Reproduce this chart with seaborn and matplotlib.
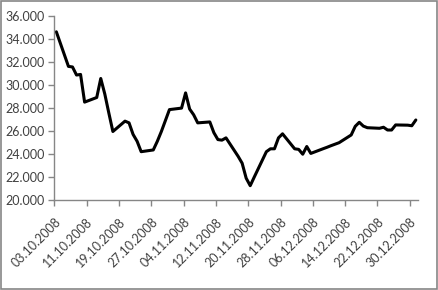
import numpy as np
import pandas as pd
import matplotlib
matplotlib.use("Agg")
import matplotlib.pyplot as plt
import matplotlib.dates as mdates
from matplotlib.patches import Rectangle
from matplotlib.ticker import FuncFormatter
import seaborn as sns

# ---- data ----
dates = [
    "03.10.2008", "06.10.2008", "07.10.2008", "08.10.2008", "09.10.2008", "10.10.2008",
    "13.10.2008", "14.10.2008", "15.10.2008", "16.10.2008", "17.10.2008",
    "20.10.2008", "21.10.2008", "22.10.2008", "23.10.2008", "24.10.2008",
    "27.10.2008", "28.10.2008", "29.10.2008", "30.10.2008", "31.10.2008",
    "03.11.2008", "04.11.2008", "05.11.2008", "06.11.2008", "07.11.2008",
    "10.11.2008", "11.11.2008", "12.11.2008", "13.11.2008", "14.11.2008",
    "17.11.2008", "18.11.2008", "19.11.2008", "20.11.2008", "21.11.2008",
    "24.11.2008", "25.11.2008", "26.11.2008", "27.11.2008", "28.11.2008",
    "01.12.2008", "02.12.2008", "03.12.2008", "04.12.2008", "05.12.2008",
    "08.12.2008", "09.12.2008", "10.12.2008", "11.12.2008", "12.12.2008",
    "15.12.2008", "16.12.2008", "17.12.2008", "18.12.2008", "19.12.2008",
    "22.12.2008", "23.12.2008", "24.12.2008", "25.12.2008", "26.12.2008",
    "29.12.2008", "30.12.2008", "31.12.2008",
]
values = [
    34600, 31600, 31550, 30850, 30900, 28500,
    28900, 30550, 29200, 27550, 25950,
    26850, 26700, 25700, 25100, 24200,
    24350, 25100, 25950, 26900, 27850,
    27980, 29300, 27900, 27400, 26700,
    26780, 25850, 25250, 25200, 25400,
    23800, 23200, 21900, 21250, 22000,
    24200, 24450, 24450, 25400, 25750,
    24450, 24400, 23980, 24650, 24050,
    24450, 24580, 24720, 24850, 24980,
    25650, 26400, 26750, 26420, 26280,
    26230, 26320, 26080, 26080, 26520,
    26500, 26450, 26950,
]
tick_labels = ["03.10.2008", "11.10.2008", "19.10.2008", "27.10.2008",
               "04.11.2008", "12.11.2008", "20.11.2008", "28.11.2008",
               "06.12.2008", "14.12.2008", "22.12.2008", "30.12.2008"]
y_ticks = [20000, 22000, 24000, 26000, 28000, 30000, 32000, 34000, 36000]

df = pd.DataFrame({"date": pd.to_datetime(dates, format="%d.%m.%Y"), "value": values})

sns.set_style("white")
plt.rcParams["font.family"] = ["Lato", "DejaVu Sans"]

fig = plt.figure(figsize=(4.38, 2.90), dpi=100)
ax = fig.add_axes([0.124, 0.310, 0.830, 0.636])

sns.lineplot(data=df, x="date", y="value", ax=ax, color="black", linewidth=2.2)

half = pd.Timedelta(hours=12)
tick_dates = pd.to_datetime(tick_labels, format="%d.%m.%Y") - half
ax.set_xlim(df["date"].iloc[0] - half, df["date"].iloc[-1] + half)
ax.set_xticks(tick_dates)
ax.set_xticklabels(tick_labels, rotation=45, ha="right", rotation_mode="anchor")
ax.set_ylim(20000, 36000)
ax.set_yticks(y_ticks)
ax.yaxis.set_major_formatter(FuncFormatter(lambda v, p: f"{int(v):,}".replace(",", ".")))

ax.set_xlabel("")
ax.set_ylabel("")
for side in ["top", "right"]:
    ax.spines[side].set_visible(False)
for side in ["left", "bottom"]:
    ax.spines[side].set_color("#868686")
    ax.spines[side].set_linewidth(1.0)
ax.tick_params(axis="both", which="both", direction="out", length=4, width=1,
               color="#868686", labelsize=9, labelcolor="#404040",
               bottom=True, left=True)
ax.tick_params(axis="x", pad=7)
ax.tick_params(axis="y", pad=3)

fig.patches.append(Rectangle((0.002, 0.003), 0.995, 0.994, transform=fig.transFigure,
                             fill=False, edgecolor="#868686", linewidth=1.2))

fig.savefig("out.png", dpi=100)
